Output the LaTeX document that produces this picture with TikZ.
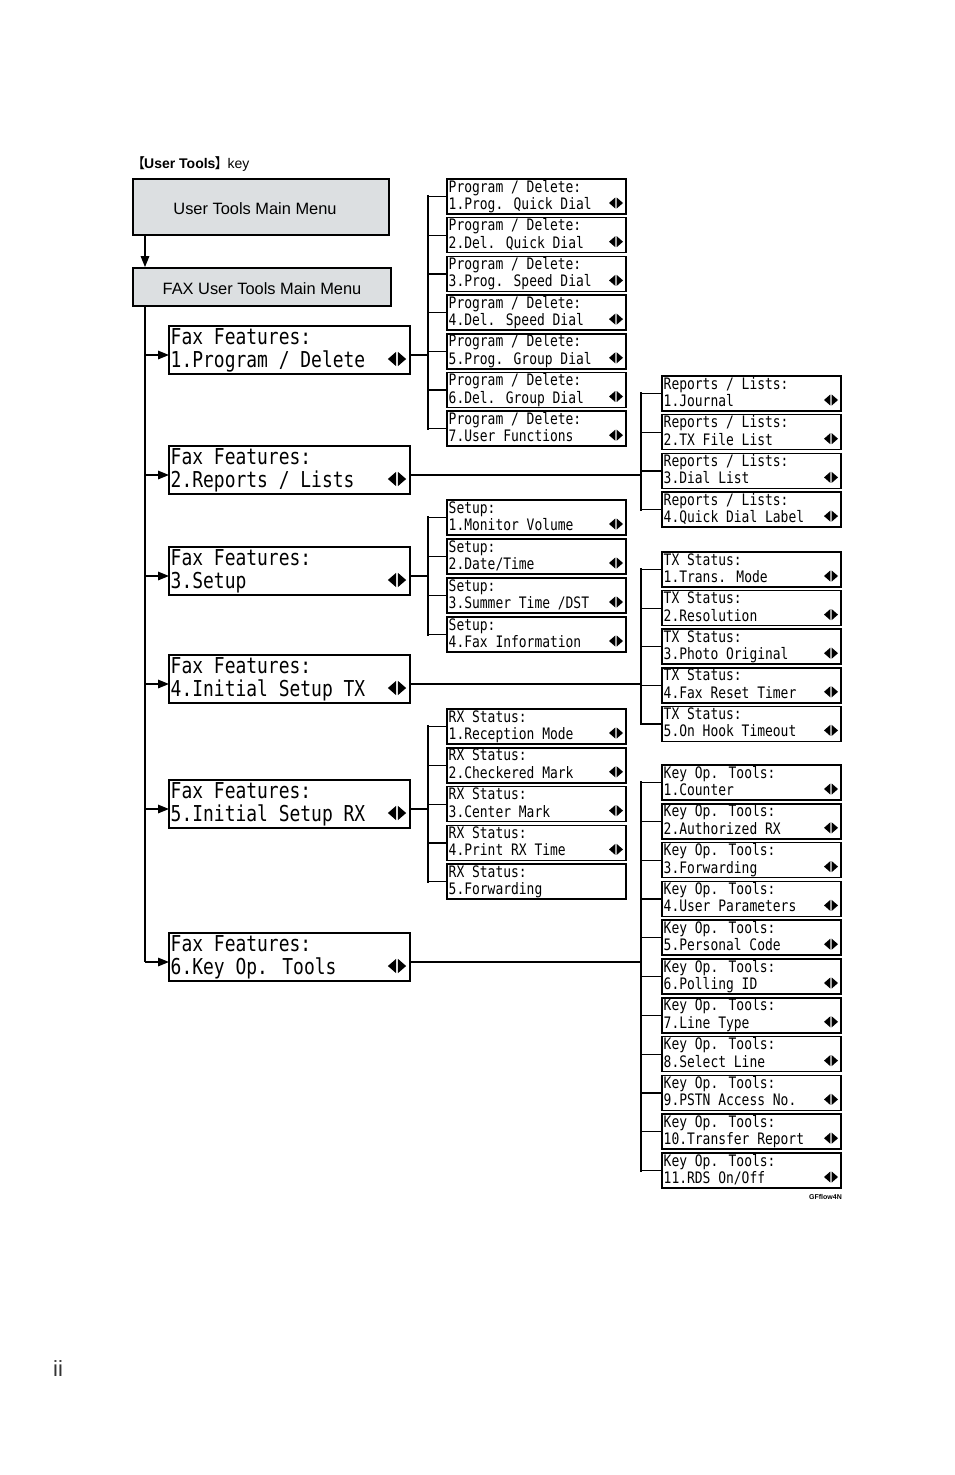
\documentclass[tikz,border=0pt]{standalone}
\usepackage{fontspec}
\setmainfont{Liberation Sans}
\newfontfamily\lcdfont[FakeStretch=0.82]{DejaVu Sans Mono}
\newfontfamily\cjk{Noto Sans CJK SC}
\usetikzlibrary{arrows.meta}
\definecolor{menugray}{HTML}{DCDFE1}
\tikzset{
 sbx/.style={draw, line width=1.5pt, minimum width=179pt, minimum height=35pt, inner sep=0pt},
 lbx/.style={draw, line width=1.5pt, minimum width=241pt, minimum height=48pt, inner sep=0pt},
 stxt/.style={anchor=base west, inner sep=0pt, font=\lcdfont\fontsize{15.8}{18}\selectfont},
 ltxt/.style={anchor=base west, inner sep=0pt, font=\lcdfont\fontsize{21.9}{24}\selectfont},
 tick/.style={line width=1.2pt},
 brk/.style={line width=2.2pt, line cap=rect},
 feed/.style={line width=1.5pt},
 arr/.style={line width=1.5pt, -{Triangle[length=11pt,width=8.5pt]}},
 menubox/.style={draw, line width=1.8pt, fill=menugray, inner sep=0pt},
 menutxt/.style={inner sep=0pt, font=\fontsize{16.4}{19}\selectfont},
}
\newcommand\LRglyph[3]{%
 \fill ({#1-0.7*#3},{#2-5.5*#3}) -- ({#1-0.7*#3},{#2+5.5*#3}) -- ({#1-7*#3},{#2}) -- cycle;
 \fill ({#1+0.7*#3},{#2-5.5*#3}) -- ({#1+0.7*#3},{#2+5.5*#3}) -- ({#1+7*#3},{#2}) -- cycle;
}
\newcommand\SBox[6]{%
 \node[sbx] (#1) at ({#2+89.5},{#3+17.5}) {};
 \node[stxt] (#1-a) at ({#2+1.5},{#3+13}) {#4};
 \node[stxt] (#1-b) at ({#2+1.5},{#3+30.5}) {#5};
 \if y#6\LRglyph{#2+169}{#3+24}{1}\fi
}
\newcommand\LBox[4]{%
 \node[lbx] (#1) at (289.5,{#2+24}) {};
 \node[ltxt] (#1-a) at (170.5,{#2+18.5}) {#3};
 \node[ltxt] (#1-b) at (170.5,{#2+41}) {#4};
 \LRglyph{397}{#2+33}{1.3}
 \coordinate (#1-in) at (169,{#2+29});
 \coordinate (#1-out) at (410,{#2+29});
}
\begin{document}
\begin{tikzpicture}[x=1pt,y=-1pt]
\useasboundingbox[fill=white] (0,0) rectangle (954,1475);

% title and main menus
\node[anchor=base west, inner sep=0pt, font=\fontsize{14}{16}\selectfont] (title) at (131,168)
  {{\cjk 【}\kern-1pt\textbf{User Tools}\kern-1pt{\cjk 】}\kern-1pt key};
\node[menubox, minimum width=256pt, minimum height=56pt] (ut) at (261,207) {};
\node[menutxt] (utt) at (255,209) {User Tools Main Menu};
\node[menubox, minimum width=258pt, minimum height=38pt] (fax) at (262,287) {};
\node[menutxt] (faxt) at (262,289) {FAX User Tools Main Menu};

\coordinate (trunk) at (145,0);
\coordinate (b1) at (428,0);
\coordinate (b2) at (641,0);

% Fax Features boxes
\LBox{ff1}{326}{Fax Features:}{1.Program / Delete}
\LBox{ff2}{446}{Fax Features:}{2.Reports / Lists}
\LBox{ff3}{547}{Fax Features:}{3.Setup}
\LBox{ff4}{655}{Fax Features:}{4.Initial Setup TX}
\LBox{ff5}{780}{Fax Features:}{5.Initial Setup RX}
\LBox{ff6}{933}{Fax Features:}{6.Key Op. Tools}

\draw[arr] (ut.south -| trunk) -- (fax.north -| trunk);
\draw[feed] (fax.south -| trunk) -- (ff6-in -| trunk);
\foreach \i in {1,...,6} \draw[arr] (ff\i-in -| trunk) -- (ff\i-in);

% Program / Delete
\SBox{pd1}{447}{179}{Program / Delete:}{1.Prog. Quick Dial}{y}
\SBox{pd2}{447}{217.7}{Program / Delete:}{2.Del. Quick Dial}{y}
\SBox{pd3}{447}{256.4}{Program / Delete:}{3.Prog. Speed Dial}{y}
\SBox{pd4}{447}{295.1}{Program / Delete:}{4.Del. Speed Dial}{y}
\SBox{pd5}{447}{333.8}{Program / Delete:}{5.Prog. Group Dial}{y}
\SBox{pd6}{447}{372.5}{Program / Delete:}{6.Del. Group Dial}{y}
\SBox{pd7}{447}{411.2}{Program / Delete:}{7.User Functions}{y}
\foreach \i in {1,...,7} \draw[tick] (pd\i.west -| b1) -- (pd\i.west);
\draw[brk] (pd1.west -| b1) -- (pd7.west -| b1);
\draw[feed] (ff1-out) -- (ff1-out -| b1);

% Reports / Lists
\SBox{rl1}{662}{376}{Reports / Lists:}{1.Journal}{y}
\SBox{rl2}{662}{414.7}{Reports / Lists:}{2.TX File List}{y}
\SBox{rl3}{662}{453.4}{Reports / Lists:}{3.Dial List}{y}
\SBox{rl4}{662}{492.1}{Reports / Lists:}{4.Quick Dial Label}{y}
\foreach \i in {1,...,4} \draw[tick] (rl\i.west -| b2) -- (rl\i.west);
\draw[brk] (rl1.west -| b2) -- (rl4.west -| b2);
\draw[feed] (ff2-out) -- (ff2-out -| b2);

% Setup
\SBox{su1}{447}{500}{Setup:}{1.Monitor Volume}{y}
\SBox{su2}{447}{539}{Setup:}{2.Date/Time}{y}
\SBox{su3}{447}{578}{Setup:}{3.Summer Time /DST}{y}
\SBox{su4}{447}{617}{Setup:}{4.Fax Information}{y}
\foreach \i in {1,...,4} \draw[tick] (su\i.west -| b1) -- (su\i.west);
\draw[brk] (su1.west -| b1) -- (su4.west -| b1);
\draw[feed] (ff3-out) -- (ff3-out -| b1);

% TX Status
\SBox{tx1}{662}{552}{TX Status:}{1.Trans. Mode}{y}
\SBox{tx2}{662}{590.6}{TX Status:}{2.Resolution}{y}
\SBox{tx3}{662}{629.2}{TX Status:}{3.Photo Original}{y}
\SBox{tx4}{662}{667.8}{TX Status:}{4.Fax Reset Timer}{y}
\SBox{tx5}{662}{706.4}{TX Status:}{5.On Hook Timeout}{y}
\foreach \i in {1,...,5} \draw[tick] (tx\i.west -| b2) -- (tx\i.west);
\draw[brk] (tx1.west -| b2) -- (tx5.west -| b2);
\draw[feed] (ff4-out) -- (ff4-out -| b2);

% RX Status
\SBox{rx1}{447}{709}{RX Status:}{1.Reception Mode}{y}
\SBox{rx2}{447}{747.8}{RX Status:}{2.Checkered Mark}{y}
\SBox{rx3}{447}{786.6}{RX Status:}{3.Center Mark}{y}
\SBox{rx4}{447}{825.4}{RX Status:}{4.Print RX Time}{y}
\SBox{rx5}{447}{864.2}{RX Status:}{5.Forwarding}{n}
\foreach \i in {1,...,5} \draw[tick] (rx\i.west -| b1) -- (rx\i.west);
\draw[brk] (rx1.west -| b1) -- (rx5.west -| b1);
\draw[feed] (ff5-out) -- (ff5-out -| b1);

% Key Op. Tools
\SBox{ko1}{662}{765}{Key Op. Tools:}{1.Counter}{y}
\SBox{ko2}{662}{803.8}{Key Op. Tools:}{2.Authorized RX}{y}
\SBox{ko3}{662}{842.6}{Key Op. Tools:}{3.Forwarding}{y}
\SBox{ko4}{662}{881.4}{Key Op. Tools:}{4.User Parameters}{y}
\SBox{ko5}{662}{920.2}{Key Op. Tools:}{5.Personal Code}{y}
\SBox{ko6}{662}{959}{Key Op. Tools:}{6.Polling ID}{y}
\SBox{ko7}{662}{997.8}{Key Op. Tools:}{7.Line Type}{y}
\SBox{ko8}{662}{1036.6}{Key Op. Tools:}{8.Select Line}{y}
\SBox{ko9}{662}{1075.4}{Key Op. Tools:}{9.PSTN Access No.}{y}
\SBox{ko10}{662}{1114.2}{Key Op. Tools:}{10.Transfer Report}{y}
\SBox{ko11}{662}{1153}{Key Op. Tools:}{11.RDS On/Off}{y}
\foreach \i in {1,...,11} \draw[tick] (ko\i.west -| b2) -- (ko\i.west);
\draw[brk] (ko1.west -| b2) -- (ko11.west -| b2);
\draw[feed] (ff6-out) -- (ff6-out -| b2);

% footer marks
\node[anchor=east, inner sep=0pt, font=\bfseries\fontsize{7}{8}\selectfont] (gf) at (842,1197) {GFflow4N};
\node[anchor=base west, inner sep=0pt, font=\fontsize{22}{24}\selectfont, text=black!80] (pg) at (53,1376) {ii};
\end{tikzpicture}
\end{document}
